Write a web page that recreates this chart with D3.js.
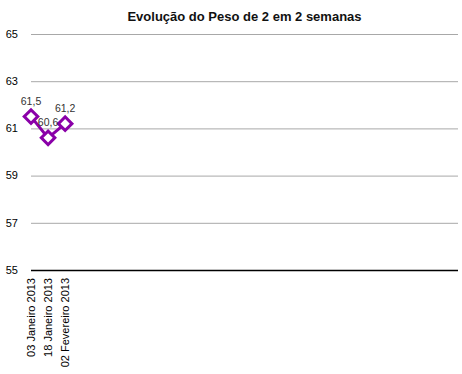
<!DOCTYPE html>
<html>
<head>
<meta charset="utf-8">
<script src="https://cdn.jsdelivr.net/npm/d3@7"></script>
<style>
  body { margin: 0; background: #fff; }
  text { font-family: "Liberation Sans", Arial, sans-serif; }
</style>
</head>
<body>
<div id="chart"></div>
<script>
const title = "Evolução do Peso de 2 em 2 semanas";
const dates = ["03 Janeiro 2013", "18 Janeiro 2013", "02 Fevereiro 2013"];
const weights = [61.5, 60.6, 61.2];
const yTicks = [55, 57, 59, 61, 63, 65];

(() => {
  const width = 462;
  const height = 374;
  const margin = { top: 34, right: 4, bottom: 104, left: 31 };
  const color = "#8a00a8";

  const svg = d3
    .select("#chart")
    .append("svg")
    .attr("width", width)
    .attr("height", height);

  const g = svg
    .append("g")
    .attr("transform", `translate(${margin.left}, ${margin.top})`);

  const innerW = width - margin.left - margin.right;
  const innerH = height - margin.top - margin.bottom;

  // the sheet leaves room for ~25 periods, only 3 are filled
  const xScale = d3.scaleLinear().domain([0, 25]).range([0, innerW]);
  const yScale = d3.scaleLinear().domain([55, 65]).range([innerH, 0]);

  svg
    .append("text")
    .attr("x", margin.left + innerW / 2)
    .attr("y", 21)
    .attr("text-anchor", "middle")
    .attr("font-size", "13px")
    .attr("font-weight", "bold")
    .attr("fill", "#111")
    .text(title);

  // grid
  g.append("g")
    .attr("class", "grid")
    .call(d3.axisLeft(yScale).tickValues(yTicks).tickSize(-innerW).tickFormat(""))
    .call((s) => s.select(".domain").remove())
    .selectAll(".tick line")
    .attr("stroke", (d) => (d === 55 ? "#000" : "#a8a8a8"))
    .attr("stroke-width", (d) => (d === 55 ? 1.5 : 1));

  // y labels
  g.append("g")
    .selectAll("text")
    .data(yTicks)
    .join("text")
    .attr("x", -13)
    .attr("y", (d) => yScale(d))
    .attr("dy", "0.35em")
    .attr("text-anchor", "end")
    .attr("font-size", "11px")
    .attr("fill", "#000")
    .text((d) => d);

  // x labels
  g.append("g")
    .selectAll("text")
    .data(dates)
    .join("text")
    .attr("transform", (d, i) => `translate(${xScale(i)}, ${innerH + 8}) rotate(-90)`)
    .attr("dy", "0.35em")
    .attr("text-anchor", "end")
    .attr("font-size", "11px")
    .attr("fill", "#000")
    .text((d) => d);

  const line = d3
    .line()
    .x((d, i) => xScale(i))
    .y((d) => yScale(d));

  g.append("path")
    .datum(weights)
    .attr("d", line)
    .attr("fill", "none")
    .attr("stroke", color)
    .attr("stroke-width", 3);

  const diamond = d3.symbol().type(d3.symbolSquare).size(92);

  g.selectAll(".pt")
    .data(weights)
    .join("path")
    .attr("class", "pt")
    .attr("d", diamond)
    .attr("transform", (d, i) => `translate(${xScale(i)}, ${yScale(d)}) rotate(45)`)
    .attr("fill", "#fff")
    .attr("stroke", color)
    .attr("stroke-width", 3);

  g.selectAll(".val")
    .data(weights)
    .join("text")
    .attr("class", "val")
    .attr("x", (d, i) => xScale(i))
    .attr("y", (d) => yScale(d) - 12)
    .attr("text-anchor", "middle")
    .attr("font-size", "10.5px")
    .attr("fill", "#333")
    .text((d) => d3.format(".1f")(d).replace(".", ","));
})();
</script>
</body>
</html>
